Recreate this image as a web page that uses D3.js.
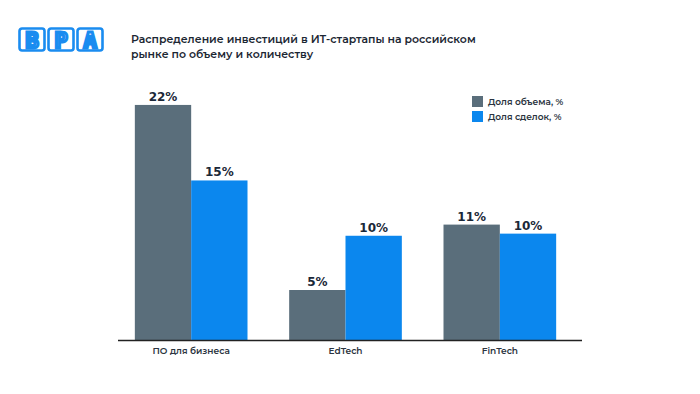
<!DOCTYPE html>
<html>
<head>
<meta charset="utf-8">
<script src="https://cdn.jsdelivr.net/npm/d3@7"></script>
<style>
  body { margin: 0; background: #fff; }
  svg { display: block; font-family: "Montserrat", "Noto Sans", sans-serif; }
</style>
</head>
<body>
<svg width="700" height="394"></svg>
<script>
const categories = ['ПО для бизнеса', 'EdTech', 'FinTech'];
const seriesNames = ['Доля объема, %', 'Доля сделок, %'];
const volume = [22.1, 4.7, 10.85];
const deals = [15, 9.8, 10];
const volumeLabels = ['22%', '5%', '11%'];
const dealsLabels = ['15%', '10%', '10%'];
const colors = ['#5a6e7b', '#0b87ee'];

const svg = d3.select('svg');

// logo
const logo = svg.append('g').attr('transform', 'translate(18,27)');
['В', 'Р', 'А'].forEach(function(ch, i) {
  logo.append('rect')
    .attr('x', i * 29 + 1.5).attr('y', 1.5)
    .attr('width', 25).attr('height', 22)
    .attr('rx', 2.5)
    .attr('fill', '#fff').attr('stroke', '#1a8cf0').attr('stroke-width', 2.6);
  logo.append('text')
    .attr('x', i * 29 + 14).attr('y', 20.5)
    .attr('text-anchor', 'middle')
    .attr('font-family', 'DejaVu Sans Mono')
    .attr('font-weight', 'bold')
    .attr('font-size', 22)
    .attr('fill', '#fff').attr('stroke', '#1a8cf0').attr('stroke-width', 3)
    .text(ch);
});

// title
const title = svg.append('text')
  .attr('x', 131).attr('y', 43)
  .attr('font-size', 10.9).attr('font-weight', 600).attr('fill', '#1c2733');
title.append('tspan').attr('x', 131).text('Распределение инвестиций в ИТ-стартапы на российском');
title.append('tspan').attr('x', 131).attr('dy', 15).text('рынке по объему и количеству');

const baseY = 340;
const x0 = d3.scaleBand().domain(categories).range([114, 577])
  .paddingInner(0.27).paddingOuter(0.135);
const x1 = d3.scaleBand().domain([0, 1]).range([0, x0.bandwidth()]);
const y = d3.scaleLinear().domain([0, 22]).range([baseY, 106]);

const rows = categories.map(function(c, i) {
  return [
    {cat: c, s: 0, v: volume[i], label: volumeLabels[i]},
    {cat: c, s: 1, v: deals[i], label: dealsLabels[i]}
  ];
});

const groups = svg.selectAll('g.grp')
  .data(rows)
  .enter().append('g')
  .attr('class', 'grp')
  .attr('transform', function(d) { return 'translate(' + x0(d[0].cat) + ',0)'; });

groups.selectAll('rect')
  .data(function(d) { return d; })
  .enter().append('rect')
  .attr('x', function(d) { return x1(d.s); })
  .attr('y', function(d) { return y(d.v); })
  .attr('width', x1.bandwidth())
  .attr('height', function(d) { return baseY - y(d.v); })
  .attr('fill', function(d) { return colors[d.s]; });

groups.selectAll('text')
  .data(function(d) { return d; })
  .enter().append('text')
  .attr('x', function(d) { return x1(d.s) + x1.bandwidth() / 2; })
  .attr('y', function(d) { return y(d.v) - 4; })
  .attr('text-anchor', 'middle')
  .attr('font-family', 'DejaVu Sans')
  .attr('font-weight', 'bold')
  .attr('font-size', 12)
  .attr('fill', '#1b2838')
  .text(function(d) { return d.label; });

// axis
const axis = svg.append('g').attr('transform', 'translate(0,' + baseY + ')')
  .call(d3.axisBottom(x0).tickSize(0).tickPadding(8));
axis.select('.domain').attr('d', 'M118,0.5H582').attr('stroke', '#222').attr('stroke-width', 1.5);
axis.selectAll('text')
  .attr('font-family', '"Montserrat", "Noto Sans", sans-serif')
  .attr('font-size', 9).attr('font-weight', 600).attr('fill', '#2b3440');

// legend
const legend = svg.append('g').attr('transform', 'translate(472,96)');
seriesNames.forEach(function(n, i) {
  legend.append('rect')
    .attr('x', 0).attr('y', i * 15)
    .attr('width', 11).attr('height', 11)
    .attr('fill', colors[i]);
  legend.append('text')
    .attr('x', 16).attr('y', i * 15 + 9)
    .attr('font-size', 9).attr('font-weight', 600).attr('fill', '#2b3440')
    .text(n);
});
</script>
</body>
</html>
